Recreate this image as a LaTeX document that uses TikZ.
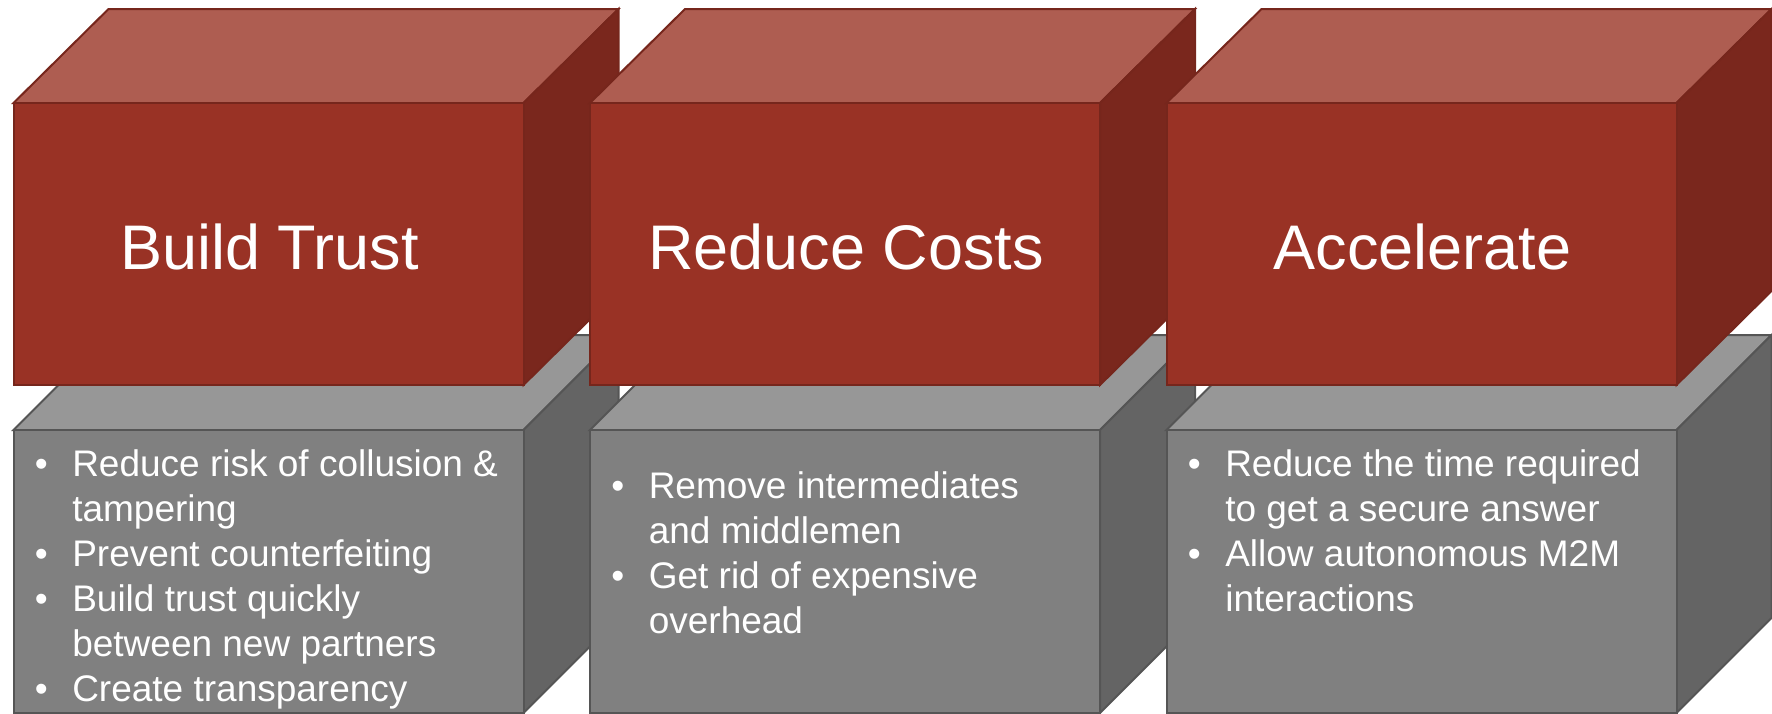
\documentclass[tikz,border=0pt]{standalone}
\usepackage{fontspec}
\setmainfont{Liberation Sans}
\usepackage{tikz}
\usetikzlibrary{calc}
\definecolor{redfront}{RGB}{153,50,37}
\definecolor{redtop}{RGB}{174,93,81}
\definecolor{redside}{RGB}{122,39,29}
\definecolor{rededge}{RGB}{118,38,28}
\definecolor{grayfront}{RGB}{128,128,128}
\definecolor{graytop}{RGB}{151,151,151}
\definecolor{grayside}{RGB}{100,100,100}
\definecolor{grayedge}{RGB}{85,85,85}

\begin{document}
\begin{tikzpicture}[x=0.5bp,y=-0.5bp,
  redline/.style={draw=rededge,line width=1bp},
  grayline/.style={draw=grayedge,line width=1bp},
  title/.style={text=white,inner sep=0pt,font=\fontsize{31.5bp}{38bp}\selectfont},
  bullets/.style={text=white,inner sep=0pt,anchor=base west,font=\fontsize{18.5bp}{22.5bp}\selectfont}]

\useasboundingbox (0,0) rectangle (1772,714);

\foreach \x/\lab [count=\n] in {13.5/Build Trust,590/Reduce Costs,1166.5/Accelerate}{
  % gray block
  \draw[grayline,fill=graytop] (\x,430) -- ++(95,-95) -- ++(510,0) -- ++(-95,95) -- cycle;
  \draw[grayline,fill=grayside] (\x+510,430) -- ++(95,-95) -- ++(0,283) -- ++(-95,95) -- cycle;
  \draw[grayline,fill=grayfront] (\x,430) rectangle ++(510,283);
  % red block
  \draw[redline,fill=redtop] (\x,103) -- ++(95,-94) -- ++(510,0) -- ++(-95,94) -- cycle;
  \draw[redline,fill=redside] (\x+510,103) -- ++(95,-94) -- ++(0,282) -- ++(-95,94) -- cycle;
  \draw[redline,fill=redfront] (\x,103) rectangle ++(510,282);
  \node[title] (T\n) at (\x+256,247) {\lab};
}

\node[bullets] (L1) at (34.5,476) {\begin{tabular}[t]{@{}p{18.7bp}@{}l@{}}
\textbullet & Reduce risk of collusion \& \\
 & tampering \\
\textbullet & Prevent counterfeiting \\
\textbullet & Build trust quickly \\
 & between new partners \\
\textbullet & Create transparency
\end{tabular}};

\node[bullets] (L2) at (611,498) {\begin{tabular}[t]{@{}p{18.7bp}@{}l@{}}
\textbullet & Remove intermediates \\
 & and middlemen \\
\textbullet & Get rid of expensive \\
 & overhead
\end{tabular}};

\node[bullets] (L3) at (1187.5,476) {\begin{tabular}[t]{@{}p{18.7bp}@{}l@{}}
\textbullet & Reduce the time required \\
 & to get a secure answer \\
\textbullet & Allow autonomous M2M \\
 & interactions
\end{tabular}};

\end{tikzpicture}
\end{document}
